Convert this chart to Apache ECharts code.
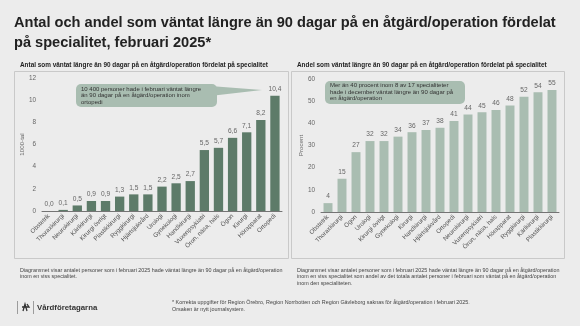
<!DOCTYPE html>
<html lang="sv">
<head>
<meta charset="utf-8">
<script src="https://cdn.jsdelivr.net/npm/echarts@6/dist/echarts.min.js"></script>
<style>
  html, body { margin: 0; padding: 0; background: #ececec; }
  #chart { width: 580px; height: 326px; }
</style>
</head>
<body>
<div id="chart"></div>
<script>
// Antal (1000-tal) per specialitet, februari 2025
const countCategories = ['Obstetrik', 'Thoraxkirurgi', 'Neurokirurgi', 'Kärlkirurgi', 'Kirurgi övrigt',
  'Plastikkirurgi', 'Ryggkirurgi', 'Hjärtsjukvård', 'Urologi', 'Gynekologi', 'Handkirurgi',
  'Vuxenpsykiatri', 'Öron, näsa, hals', 'Ögon', 'Kirurgi', 'Hörapparat', 'Ortopedi'];
const countValues = [0.0, 0.1, 0.5, 0.9, 0.9, 1.3, 1.5, 1.5, 2.2, 2.5, 2.7, 5.5, 5.7, 6.6, 7.1, 8.2, 10.4];
const countTicks = [0, 2, 4, 6, 8, 10, 12];

// Andel (procent) per specialitet, februari 2025
const shareCategories = ['Obstetrik', 'Thoraxkirurgi', 'Ögon', 'Urologi', 'Kirurgi övrigt', 'Gynekologi',
  'Kirurgi', 'Handkirurgi', 'Hjärtsjukvård', 'Ortopedi', 'Neurokirurgi', 'Vuxenpsykiatri',
  'Öron, näsa, hals', 'Hörapparat', 'Ryggkirurgi', 'Kärlkirurgi', 'Plastikkirurgi'];
const shareValues = [4, 15, 27, 32, 32, 34, 36, 37, 38, 41, 44, 45, 46, 48, 52, 54, 55];
const shareTicks = [0, 10, 20, 30, 40, 50, 60];

const FONT = '"Liberation Sans", Arial, sans-serif';
const DARK = '#5d7b69';
const LIGHT = '#a9bdb1';
const BUBBLE = '#a9bdb1';

const chart = echarts.init(document.getElementById('chart'), null, { renderer: 'canvas' });

function txt(x, y, text, size, opts) {
  return Object.assign({
    type: 'text', x: x, y: y, silent: true,
    style: Object.assign({
      text: text, font: (opts && opts.weight ? opts.weight + ' ' : '') + size + 'px ' + FONT,
      fill: '#222', textVerticalAlign: 'middle', lineHeight: size * 1.25
    }, opts && opts.style)
  }, opts && opts.extra);
}

const axisCommon = {
  xLabel: { fontFamily: FONT, fontSize: 6.2, color: '#555', rotate: 45, interval: 0, margin: 4 },
  yLabel: { fontFamily: FONT, fontSize: 6.4, color: '#666', margin: 6 }
};

chart.setOption({
  backgroundColor: '#ececec',
  animation: false,
  textStyle: { fontFamily: FONT },
  grid: [
    { left: 42, right: 298, top: 78, bottom: 115 },
    { left: 321, right: 21, top: 79, bottom: 114 }
  ],
  xAxis: [
    {
      type: 'category', gridIndex: 0, data: countCategories,
      axisLine: { lineStyle: { color: '#555', width: 0.8 } },
      axisTick: { show: false }, axisLabel: axisCommon.xLabel
    },
    {
      type: 'category', gridIndex: 1, data: shareCategories,
      axisLine: { lineStyle: { color: '#555', width: 0.8 } },
      axisTick: { show: false }, axisLabel: axisCommon.xLabel
    }
  ],
  yAxis: [
    {
      type: 'value', gridIndex: 0, min: countTicks[0], max: countTicks[countTicks.length - 1],
      interval: countTicks[1] - countTicks[0],
      splitLine: { show: false }, axisLine: { show: false }, axisTick: { show: false },
      axisLabel: axisCommon.yLabel,
      name: '1000-tal', nameLocation: 'middle', nameGap: 16, nameRotate: 90,
      nameTextStyle: { fontFamily: FONT, fontSize: 6.2, color: '#666' }
    },
    {
      type: 'value', gridIndex: 1, min: shareTicks[0], max: shareTicks[shareTicks.length - 1],
      interval: shareTicks[1] - shareTicks[0],
      splitLine: { show: false }, axisLine: { show: false }, axisTick: { show: false },
      axisLabel: axisCommon.yLabel,
      name: 'Procent', nameLocation: 'middle', nameGap: 15, nameRotate: 90,
      nameTextStyle: { fontFamily: FONT, fontSize: 6.2, color: '#666' }
    }
  ],
  series: [
    {
      type: 'bar', xAxisIndex: 0, yAxisIndex: 0, data: countValues, barWidth: '66%',
      itemStyle: { color: DARK },
      label: {
        show: true, position: 'top', distance: 3, fontFamily: FONT, fontSize: 6.6, color: '#666',
        formatter: p => p.value.toFixed(1).replace('.', ',')
      }
    },
    {
      type: 'bar', xAxisIndex: 1, yAxisIndex: 1, data: shareValues, barWidth: '64%',
      itemStyle: { color: LIGHT },
      label: {
        show: true, position: 'top', distance: 3, fontFamily: FONT, fontSize: 6.6, color: '#666'
      }
    }
  ],
  graphic: [
    // Rubrik
    txt(14, 23, 'Antal och andel som väntat längre än 90 dagar på en åtgärd/operation fördelat', 14.6, { weight: 'bold' }),
    txt(14, 43, 'på specialitet, februari 2025*', 14.6, { weight: 'bold' }),
    // Panelrubriker
    txt(20, 65, 'Antal som väntat längre än 90 dagar på en åtgärd/operation fördelat på specialitet', 6.4, { weight: 'bold' }),
    txt(297, 65, 'Andel som väntat längre än 90 dagar på en åtgärd/operation fördelat på specialitet', 6.4, { weight: 'bold' }),
    // Panelramar
    { type: 'rect', silent: true, shape: { x: 14.5, y: 71.5, width: 274, height: 187 },
      style: { fill: 'none', stroke: '#c9c9c9', lineWidth: 1 } },
    { type: 'rect', silent: true, shape: { x: 291.5, y: 71.5, width: 273, height: 187 },
      style: { fill: 'none', stroke: '#c9c9c9', lineWidth: 1 } },
    // Pratbubbla, vänster diagram
    { type: 'polygon', silent: true, shape: { points: [[210, 86], [262, 90], [210, 96]] },
      style: { fill: BUBBLE } },
    { type: 'rect', silent: true, shape: { x: 76, y: 84, width: 141, height: 23, r: 5 },
      style: { fill: BUBBLE } },
    txt(81, 95.5, '10 400 personer hade i februari väntat längre\nän 90 dagar på en åtgärd/operation inom\nortopedi', 6,
      { style: { fill: '#333', lineHeight: 6.5 } }),
    // Ruta, höger diagram
    { type: 'rect', silent: true, shape: { x: 325, y: 81, width: 140, height: 23, r: 5 },
      style: { fill: BUBBLE } },
    txt(330, 92, 'Mer än 40 procent inom 8 av 17 specialiteter\nhade i december väntat längre än 90 dagar på\nen åtgärd/operation', 6,
      { style: { fill: '#333', lineHeight: 6.8 } }),
    // Förklaringar under diagrammen
    txt(20, 273.5, 'Diagrammet visar antalet personer som i februari 2025 hade väntat längre än 90 dagar på en åtgärd/operation\ninom en viss specialitet.', 5.4,
      { style: { fill: '#444', lineHeight: 6.6 } }),
    txt(297, 277, 'Diagrammet visar antalet personer som i februari 2025 hade väntat längre än 90 dagar på en åtgärd/operation\ninom en viss specialitet som andel av det totala antalet personer i februari som väntat på en åtgärd/operation\ninom den specialiteten.', 5.4,
      { style: { fill: '#444', lineHeight: 6.6 } }),
    // Fotnot
    txt(172, 306, '* Korrekta uppgifter för Region Örebro, Region Norrbotten och Region Gävleborg saknas för åtgärd/operation i februari 2025.\nOrsaken är nytt journalsystem.', 5.4,
      { style: { fill: '#444', lineHeight: 7 } }),
    // Logotyp
    { type: 'line', silent: true, shape: { x1: 17.5, y1: 301, x2: 17.5, y2: 314 }, style: { stroke: '#888', lineWidth: 0.8 } },
    { type: 'polyline', silent: true, shape: { points: [[23, 311], [25, 304], [27, 311]] }, style: { stroke: '#333', lineWidth: 1.3, fill: 'none' } },
    { type: 'polyline', silent: true, shape: { points: [[22, 307], [29, 307], [27, 304]] }, style: { stroke: '#333', lineWidth: 1.3, fill: 'none' } },
    { type: 'line', silent: true, shape: { x1: 33.5, y1: 301, x2: 33.5, y2: 314 }, style: { stroke: '#888', lineWidth: 0.8 } },
    txt(37, 307.5, 'Vårdföretagarna', 7.8, { weight: 'bold', style: { fill: '#333' } })
  ]
});
</script>
</body>
</html>
